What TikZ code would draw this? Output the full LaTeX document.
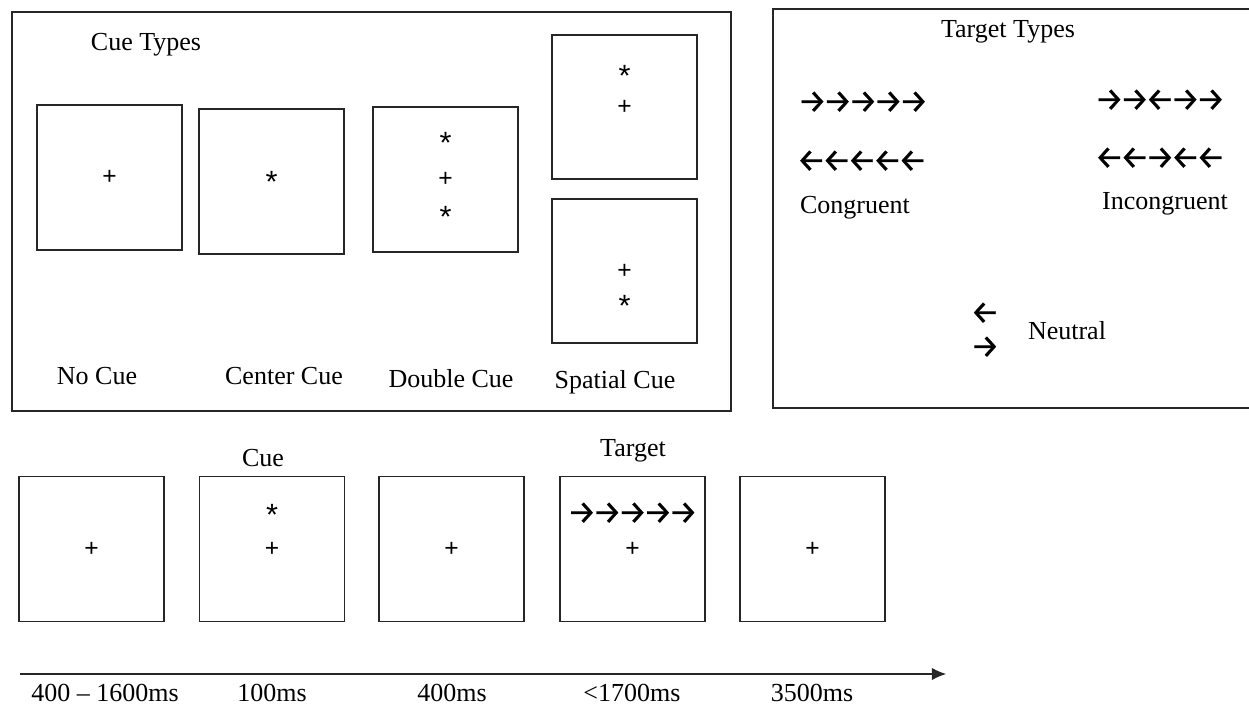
\documentclass[tikz,border=0pt]{standalone}
\usepackage{fontspec}
\setmainfont{Liberation Serif}
\newfontfamily\arrowfont{Fira Sans}[LetterSpace=-12,FakeBold=0.6]
\newfontfamily\symfont{Liberation Sans}
\usepackage{tikz}
\usetikzlibrary{positioning,calc,arrows.meta}

% rows of flanker arrows
\newcommand{\flank}[1]{{\arrowfont\fontsize{18.5}{19}\selectfont #1}}

\begin{document}
\begin{tikzpicture}
		[x=0.02cm,y=-0.02cm,
		every node/.style={inner sep=0pt,font=\fontsize{14.8}{17}\selectfont},
		screen/.style={draw=black!85,line width=0.8pt,minimum width=2.9cm,minimum height=2.9cm},
		panel/.style={draw=black!85,line width=0.8pt},
		sym/.style={font=\symfont\fontsize{14}{14}\selectfont},
		star/.style={font=\symfont\fontsize{17.5}{18}\selectfont}]
	\useasboundingbox (0,0) rectangle (1249,707);

	% the two frames
	\draw[panel] (12,12) rectangle (731,411);
	\draw[panel] (773,9) rectangle (1262,408);

	% cue types
	\node (cuetypes) at (146,45) {Cue Types};
	\node[screen] (nocue) at (109.5,177.5) {};
	\node[screen] (centercue) at (271.5,181.5) {};
	\node[screen] (doublecue) at (445.5,179.5) {};
	\node[screen,minimum height=2.88cm] (spatialup) at (624.5,107) {};
	\node[screen,minimum height=2.88cm] (spatialdown) at (624.5,271) {};

	\node[sym] at (nocue) {+};
	\node[star] at (centercue) {*};
	\node[sym] at (doublecue) {+};
	\node[star] at ($(doublecue)+(0,-37)$) {*};
	\node[star] at ($(doublecue)+(0,37)$) {*};
	\node[sym] at (spatialup) {+};
	\node[star] at ($(spatialup)+(0,-31)$) {*};
	\node[sym] at (spatialdown) {+};
	\node[star] at ($(spatialdown)+(0,35)$) {*};

	\node (nocuelbl) at (97,376) {No Cue};
	\node (centerlbl) at (284,376) {Center Cue};
	\node (doublelbl) at (451,379) {Double Cue};
	\node (spatiallbl) at (615,382) {Spatial Cue};

	% target types
	\node (targettypes) at (1008,32) {Target Types};
	\node (congright) at (863,102) {\flank{→→→→→}};
	\node (congleft) at (862,161) {\flank{←←←←←}};
	\node (conglbl) at (855,208) {Congruent};
	\node (incright) at (1160,100) {\flank{→→←→→}};
	\node (incleft) at (1160,158) {\flank{←←→←←}};
	\node (inclbl) at (1165,204) {Incongruent};
	\node (neutleft) at (985,313) {\flank{←}};
	\node (neutright) at (985,347) {\flank{→}};
	\node (neutlbl) at (1067,331) {Neutral};

	% one trial
	\node[screen] (fix) at (91.5,549) {};
	\node[screen] (cue) at (272,549) {};
	\node[screen] (soa) at (451.5,549) {};
	\node[screen] (target) at (632.5,549) {};
	\node[screen] (iti) at (812.5,549) {};

	\node[sym] at (fix) {+};
	\node[sym] at (cue) {+};
	\node[star] at ($(cue)+(0,-34)$) {*};
	\node[sym] at (soa) {+};
	\node[sym] at (target) {+};
	\node at ($(target)+(0,-36)$) {\flank{→→→→→}};
	\node[sym] at (iti) {+};

	\node (cuelbl) at (263,458) {Cue};
	\node (targetlbl) at (633,451) {Target};

	% time line
	\coordinate (tstart) at (20,674);
	\coordinate (tend) at (946,674);
	\draw[black!85,line width=0.6pt,-{Latex[length=8pt,width=7pt]}] (tstart) -- (tend);
	\node (t1) at (105,693) {400 -- 1600ms};
	\node (t2) at (272,693) {100ms};
	\node (t3) at (452,693) {400ms};
	\node (t4) at (632,693) {<1700ms};
	\node (t5) at (812,693) {3500ms};
\end{tikzpicture}
\end{document}
